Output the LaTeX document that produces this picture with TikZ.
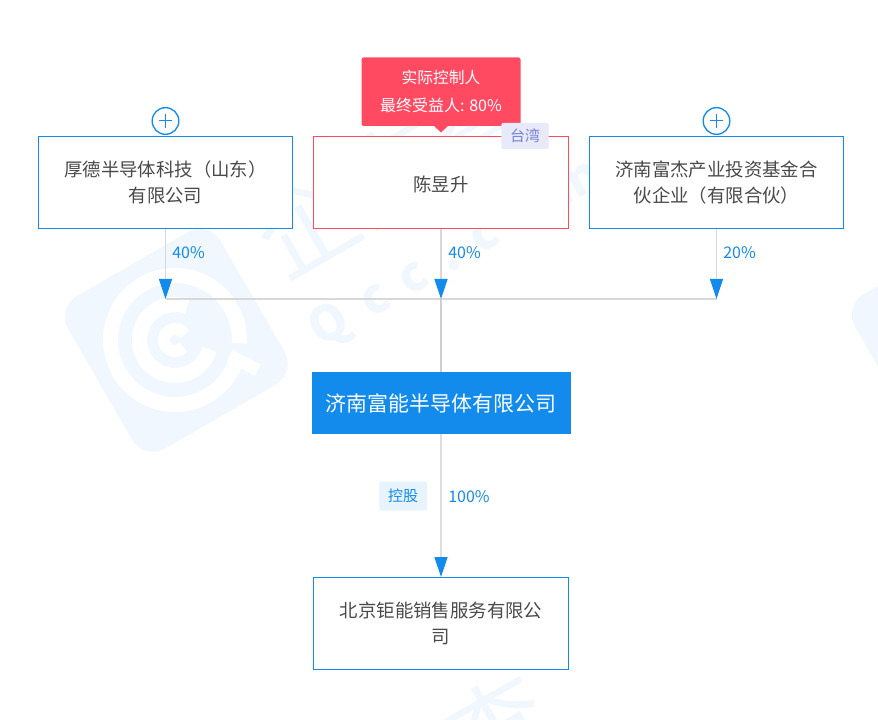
\documentclass[tikz,border=0pt]{standalone}
\usepackage{fontspec}
\usetikzlibrary{arrows.meta}
\setmainfont{Noto Sans CJK SC}
\newcommand{\fs}[1]{\fontsize{#1}{#1}\selectfont}
\definecolor{qblue}{HTML}{128BED}
\definecolor{qred}{HTML}{FF4A62}
\definecolor{qtext}{HTML}{4A4A4A}
\definecolor{wm}{HTML}{F1F7FE}
\definecolor{wire}{HTML}{D8D8D8}
\tikzset{
  x=0.75pt,y=-0.75pt,
  entity/.style={draw=qblue,line width=0.9pt,fill=white,inner sep=0pt,minimum width=190.5pt,minimum height=69pt,align=center,text=qtext,font=\fs{13.8},execute at begin node=\setlength{\baselineskip}{19.5pt}},
  pct/.style={text=qblue,font=\fs{12},inner sep=0pt},
  wire line/.style={draw=wire,line width=0.8pt},
  tipped/.style={-{Triangle[width=9.75pt,length=15pt,color=qblue]}},
  addbtn/.style={circle,draw=qblue,line width=1pt,fill=white,minimum size=20pt,inner sep=0pt},
  ring/.style={draw=white,line cap=butt},
  wmtext/.style={text=wm,inner sep=0pt}
}
\newcommand{\qlogo}[2]{%
\begin{scope}[shift={(#1,#2)},x=0.75pt,y=0.75pt]
  \fill[wm,rounded corners=18pt,rotate=30] (-87,-89) rectangle (89,87);
  \draw[ring,line width=11.25pt] (-3:64.5) arc[start angle=-3,end angle=344,radius=64.5];
  \draw[ring,line width=11.25pt] (70:35.5) arc[start angle=70,end angle=345,radius=35.5];
  \draw[ring,line width=9pt] (30:11) arc[start angle=30,end angle=320,radius=11];
  \draw[draw=white,line width=9.5pt] (-16:57) -- (-20:88);
\end{scope}}
\begin{document}
\begin{tikzpicture}
\useasboundingbox (0,0) rectangle (878,720);
\clip (0,0) rectangle (878,720);
\fill[white] (0,0) rectangle (878,720);
% watermark
\qlogo{175}{340}
\qlogo{962}{338}
\node[wmtext,rotate=30,font=\fs{75}] at (392,172) {企查查};
\node[wmtext,rotate=30,font=\fs{36}\bfseries] at (456,254) {\addfontfeature{LetterSpace=42}Qcc.com};
\node[wmtext,rotate=30,font=\fs{75}] at (497,726) {查};
% junctions
\coordinate (jl) at (165.5,299);
\coordinate (jm) at (441,299);
\coordinate (jr) at (716.5,299);
\coordinate (jb) at (441,577);
% nodes
\node[entity] (a) at (165.5,182.5) {厚德半导体科技（山东）\\有限公司};
\node[entity,draw=qred,minimum width=191.25pt] (b) at (441,182.5) {\raisebox{-1.5pt}[\height][\depth]{陈昱升}};
\node[entity] (c) at (716.5,182.5) {济南富杰产业投资基金合\\伙企业（有限合伙）};
\node[entity,minimum width=191.25pt] (e) at (441,623.5) {北京钜能销售服务有限公\\司};
\node[fill=qblue,inner sep=0pt,minimum width=194.25pt,minimum height=46.5pt,text=white,font=\fs{15.7}] (d) at (441,403) {济南富能半导体有限公司};
% connectors
\draw[wire line] (jl) -- (jr);
\draw[wire line,tipped] (a.south) -- (jl);
\draw[wire line,line width=1.1pt,tipped] (b.south) -- (jm);
\draw[wire line,tipped] (c.south) -- (jr);
\draw[wire line,line width=1.1pt,draw=black!19] (jm) -- (d.north);
\draw[wire line,line width=1.1pt,draw=black!13,tipped] (d.south) -- (jb);
% add buttons
\node[addbtn] (pa) at (165.5,121) {};
\draw[qblue,line width=0.75pt] ([xshift=-5pt]pa.center) -- ([xshift=5pt]pa.center) ([yshift=-5pt]pa.center) -- ([yshift=5pt]pa.center);
\node[addbtn] (pc) at (716.5,121) {};
\draw[qblue,line width=0.75pt] ([xshift=-5pt]pc.center) -- ([xshift=5pt]pc.center) ([yshift=-5pt]pc.center) -- ([yshift=5pt]pc.center);
% percentages
\node[pct,anchor=west] (p1) at (172,253) {40\%};
\node[pct,anchor=west] (p2) at (448,253) {40\%};
\node[pct,anchor=west] (p3) at (723,253) {20\%};
\node[pct,anchor=west] (p4) at (448,497) {100\%};
% tags
\node[fill=qblue!10,rounded corners=1.5pt,inner sep=0pt,minimum width=35.6pt,minimum height=21.75pt,text=qblue,font=\fs{11.25}] (t1) at (403.2,496) {控股};
\fill[qred,rounded corners=1.5pt] (361.5,57.5) rectangle (520.5,126);
\fill[qred] (434,126) -- (441,132.5) -- (448,126) -- cycle;
\node[text=white,font=\fs{11.8},inner sep=0pt] (r1) at (441,77) {实际控制人};
\node[text=white,font=\fs{12},inner sep=0pt] (r2) at (441,105) {最终受益人: 80\%};
\node[fill={rgb,255:red,232;green,234;blue,249},rounded corners=1.5pt,inner sep=0pt,minimum width=35.6pt,minimum height=19.5pt,text={rgb,255:red,117;green,128;blue,216},font=\fs{11.25}] (t2) at (525,136) {台湾};
\end{tikzpicture}
\end{document}
